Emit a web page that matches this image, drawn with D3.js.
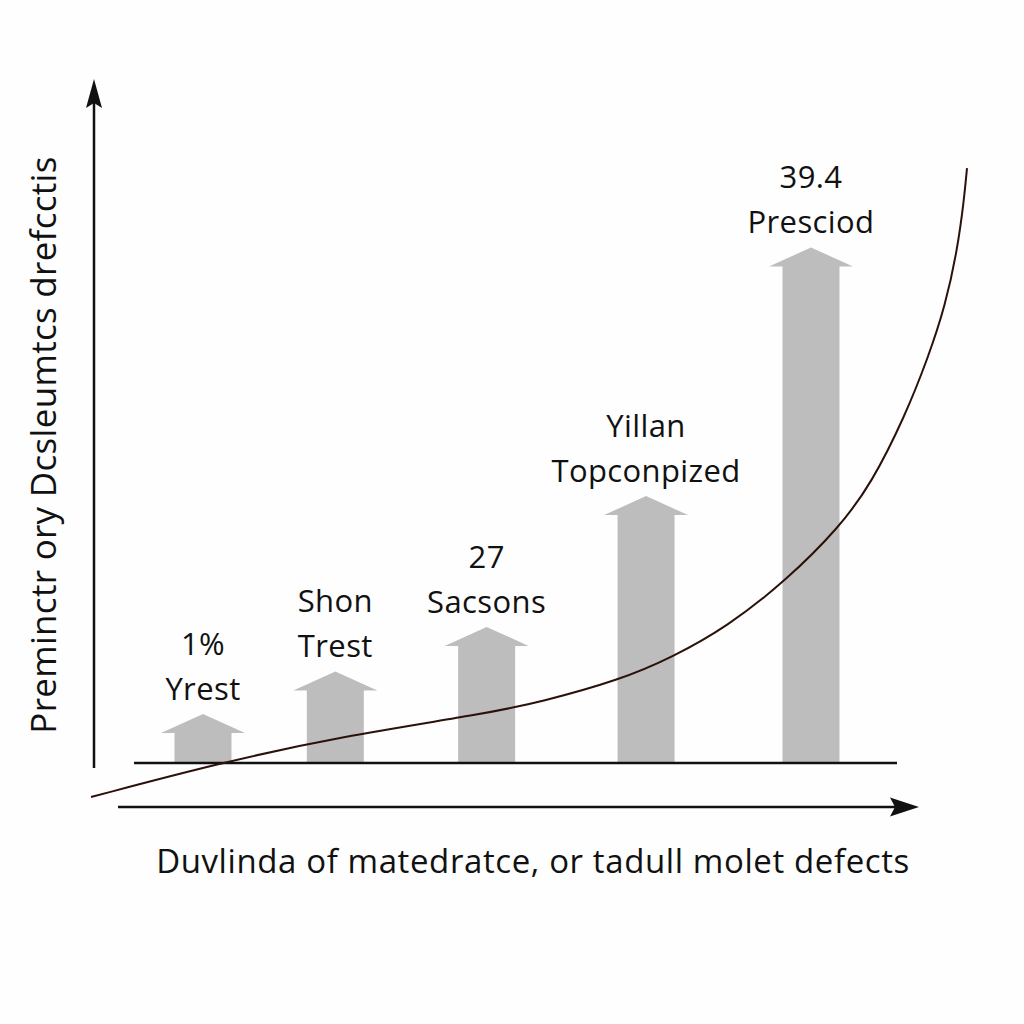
<!DOCTYPE html>
<html>
<head>
<meta charset="utf-8">
<script src="https://cdn.jsdelivr.net/npm/d3@7"></script>
<style>
  body { margin: 0; background: #fff; }
  text { font-family: "Open Sans", sans-serif; fill: #111; }
</style>
</head>
<body>
<div id="chart-area"></div>
<script>
// bar categories and values
var categories = ["A", "B", "C", "D", "E"];
var values = [3.75, 7.0, 10.4, 20.4, 39.4];
var labelTop = ["1%", "Shon", "27", "Yillan", "39.4"];
var labelBottom = ["Yrest", "Trest", "Sacsons", "Topconpized", "Presciod"];

// trend curve (x in 0..100, y in bar units)
var curveX = [0, 14.7, 28.3, 45.3, 51.3, 60.4, 66.4, 72.6, 79.45, 85.5, 89.1, 92.9, 95.6, 97.5, 98.9, 99.66, 100];
var curveY = [-2.6, 0, 2.0, 3.8, 4.66, 6.35, 8.1, 10.4, 14.0, 18.07, 21.38, 26.47, 31.06, 34.9, 39.22, 43.04, 45.47];

var yTitle = "Preminctr ory Dcsleumtcs drefcctis";
var xTitle = "Duvlinda of matedratce, or tadull molet defects";

var svg = d3.select("#chart-area").append("svg")
    .attr("width", 1024)
    .attr("height", 1024);

svg.append("rect")
    .attr("width", 1024)
    .attr("height", 1024)
    .attr("fill", "#fefefe");

// bars get slightly wider gaps to the right
var xIdx = d3.scalePow()
    .exponent(1.1)
    .domain([0, categories.length - 1])
    .range([203, 811]);
var x = (name) => xIdx(categories.indexOf(name));

var y = d3.scaleLinear()
    .domain([0, 52.2])
    .range([763, 80]);

var cx = d3.scaleLinear()
    .domain([0, 100])
    .range([91, 967]);

var bodyHalf = 28.5, headHalf = 42, headH = 19;

// arrow shaped bars
svg.selectAll("path.bar")
    .data(values)
    .enter()
    .append("path")
    .attr("class", "bar")
    .attr("fill", "#bdbdbd")
    .attr("d", (d, i) => {
        var c = x(categories[i]);
        var top = y(d), sh = top + headH, bot = y(0);
        return "M" + (c - bodyHalf) + "," + bot +
            "L" + (c - bodyHalf) + "," + sh +
            "L" + (c - headHalf) + "," + sh +
            "L" + c + "," + top +
            "L" + (c + headHalf) + "," + sh +
            "L" + (c + bodyHalf) + "," + sh +
            "L" + (c + bodyHalf) + "," + bot + "Z";
    });

// labels above bars
svg.selectAll("text.lab2")
    .data(labelBottom)
    .enter()
    .append("text")
    .attr("x", (d, i) => x(categories[i]))
    .attr("y", (d, i) => y(values[i]) - 14)
    .attr("text-anchor", "middle")
    .attr("font-size", 31)
    .attr("letter-spacing", 0.4)
    .text(d => d);

svg.selectAll("text.lab1")
    .data(labelTop)
    .enter()
    .append("text")
    .attr("x", (d, i) => x(categories[i]))
    .attr("y", (d, i) => y(values[i]) - 59)
    .attr("text-anchor", "middle")
    .attr("font-size", 31)
    .attr("letter-spacing", 0.4)
    .text(d => d);

// baseline
svg.append("line")
    .attr("x1", 134).attr("x2", 897)
    .attr("y1", y(0)).attr("y2", y(0))
    .attr("stroke", "#111")
    .attr("stroke-width", 2.5);

// y axis arrow
svg.append("line")
    .attr("x1", 94).attr("x2", 94)
    .attr("y1", 768).attr("y2", 100)
    .attr("stroke", "#111")
    .attr("stroke-width", 2.5);
svg.append("path")
    .attr("d", "M94,79 L102,108 L94,103 L86,108 Z")
    .attr("fill", "#111");

// x axis arrow
svg.append("line")
    .attr("x1", 118).attr("x2", 898)
    .attr("y1", 807).attr("y2", 807)
    .attr("stroke", "#111")
    .attr("stroke-width", 2.5);
svg.append("path")
    .attr("d", "M919,807 L890,797.5 L895,807 L890,816.5 Z")
    .attr("fill", "#111");

// trend curve
var pts = curveX.map((d, i) => [cx(d), y(curveY[i])]);
var line = d3.line().curve(d3.curveBasis);
svg.append("path")
    .attr("d", line(pts))
    .attr("fill", "none")
    .attr("stroke", "#2a120a")
    .attr("stroke-width", 2);

// titles
svg.append("text")
    .attr("x", 533)
    .attr("y", 873)
    .attr("text-anchor", "middle")
    .attr("font-size", 33)
    .attr("letter-spacing", 0.6)
    .text(xTitle);

svg.append("text")
    .attr("transform", "translate(56,445) rotate(-90)")
    .attr("text-anchor", "middle")
    .attr("font-size", 35)
    .attr("letter-spacing", 0.3)
    .text(yTitle);
</script>
</body>
</html>
